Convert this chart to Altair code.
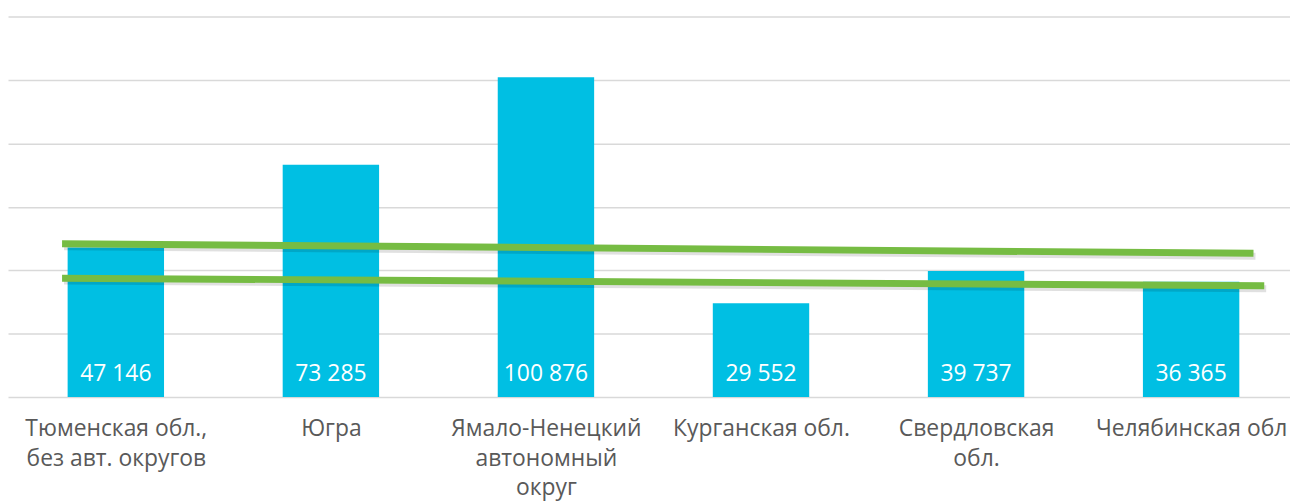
import json
import altair as alt
import pandas as pd

categories = [
    "Тюменская обл.,\nбез авт. округов",
    "Югра",
    "Ямало-Ненецкий\nавтономный\nокруг",
    "Курганская обл.",
    "Свердловская\nобл.",
    "Челябинская обл",
]
values = [47146, 73285, 100876, 29552, 39737, 36365]
value_labels = ["47 146", "73 285", "100 876", "29 552", "39 737", "36 365"]

# two green lines drawn over the bars (x in category-index units, 0 = first bar centre)
line_names = ["upper", "upper", "lower", "lower"]
line_x = [-0.25, 5.29, -0.25, 5.34]
line_y = [48350, 45340, 37500, 35090]

y_ticks = [0, 20000, 40000, 60000, 80000, 100000, 120000]

FONT = "Open Sans"

positions = list(range(len(categories)))
bars_df = pd.DataFrame({"pos": positions, "cat": categories, "value": values, "label": value_labels})
lines_df = pd.DataFrame({"series": line_names, "pos": line_x, "y": line_y})

label_expr = "split(" + json.dumps(categories, ensure_ascii=False) + "[datum.value], '\\n')"

xscale = alt.Scale(domain=[-0.5014, 5.4598], nice=False, zero=False, padding=0)
xpos = alt.X(
    "pos:Q",
    scale=xscale,
    axis=alt.Axis(
        title=None,
        values=positions,
        labelExpr=label_expr,
        domain=False,
        ticks=False,
        grid=False,
        labelAngle=0,
        labelAlign="center",
        labelFont=FONT,
        labelFontSize=23,
        labelColor="#595959",
        labelPadding=21,
        labelLineHeight=29.5,
        labelOverlap=False,
        labelBound=False,
        labelFlush=False,
        labelLimit=0,
        labelBaseline="top",
    ),
)
yq = alt.Y(
    "value:Q",
    scale=alt.Scale(domain=[0, 120000], nice=False),
    axis=alt.Axis(
        title=None,
        values=y_ticks,
        labels=False,
        ticks=False,
        domain=False,
        grid=True,
        gridColor="#d9d9d9",
        gridWidth=1.5,
    ),
)

bars = alt.Chart(bars_df).mark_bar(color="#00BFE3", size=97).encode(x=xpos, y=yq)

texts = (
    alt.Chart(bars_df)
    .mark_text(color="white", font=FONT, fontSize=23, dy=-16, baseline="alphabetic")
    .encode(x=alt.X("pos:Q"), y=alt.datum(0), text="label:N")
)

lx = alt.X("pos:Q")
ly = alt.Y("y:Q")

shadow = (
    alt.Chart(lines_df)
    .mark_line(color="#000000", opacity=0.12, strokeWidth=7, yOffset=3, xOffset=2)
    .encode(x=lx, y=ly, detail="series:N")
)
glines = (
    alt.Chart(lines_df)
    .mark_line(color="#76BC43", strokeWidth=7, strokeCap="butt")
    .encode(x=lx, y=ly, detail="series:N")
)

chart = (
    alt.layer(bars, texts, shadow, glines)
    .properties(
        width=1290,
        height=383,
        padding={"top": 7, "bottom": 103, "left": 0, "right": 0},
        autosize=alt.AutoSizeParams(type="none"),
    )
    .configure_view(stroke=None)
)

chart.save("out.html", embed_options={"renderer": "svg", "actions": False})
